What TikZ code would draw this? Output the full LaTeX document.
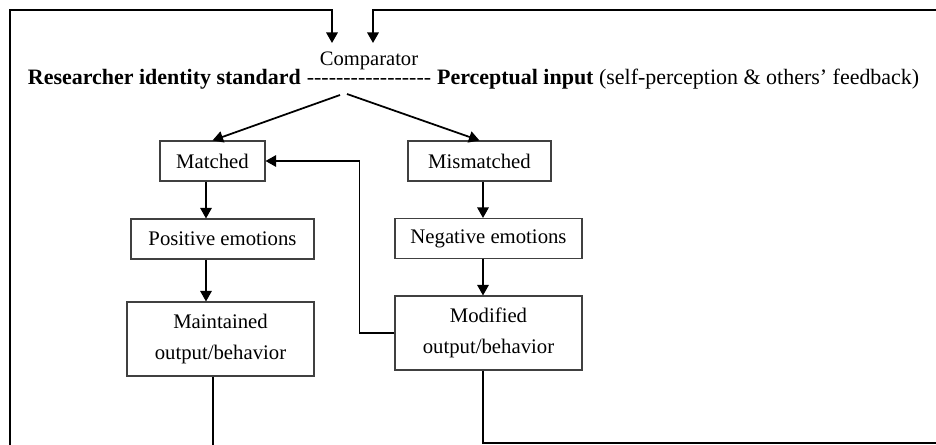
\documentclass[tikz,border=0pt]{standalone}
\usepackage{fontspec}
\setmainfont{Liberation Serif}
\usetikzlibrary{arrows.meta,positioning}

\tikzset{
  box/.style={draw=black!75, line width=0.6pt, align=center, inner sep=2pt,
    minimum height=0.8cm, font=\fontsize{11.8}{17.5}\selectfont},
  flow/.style={line width=1pt, -{Triangle[length=6pt,width=6.5pt]}},
  headtext/.style={inner sep=0pt, font=\fontsize{12.5}{15}\selectfont},
}

\begin{document}
\begin{tikzpicture}
	\useasboundingbox (0,0) rectangle (18.72,8.88);
	\clip (0,0) rectangle (18.72,8.88);
	% header: standard ---- input
	\node[headtext] (dashes) at (7.38,7.24) {\foreach \k in {1,...,17}{\mbox{-}}};
	\node[headtext, anchor=base east] (std) at ([xshift=-3pt]dashes.base west) {\textbf{Researcher identity standard}};
	\node[headtext, anchor=base west] (input) at ([xshift=3pt]dashes.base east) {\textbf{Perceptual input} (self-perception \& others’ feedback)};
	\node[inner sep=0pt, font=\fontsize{11.7}{13}\selectfont, anchor=base] (comp) at ([yshift=0.38cm]dashes.base) {Comparator};
	% boxes
	\node[box, minimum width=2.1cm] (matched) at (4.25,5.66) {Matched};
	\node[box, minimum width=2.86cm] (mismatched) at (9.59,5.66) {Mismatched};
	\node[box, minimum width=3.66cm] (positive) at (4.45,4.10) {Positive emotions};
	\node[box, minimum width=3.74cm] (negative) at (9.77,4.11) {Negative emotions};
	\node[box, minimum width=3.74cm, minimum height=1.48cm] (maintained) at (4.41,2.10) {Maintained\\output/behavior};
	\node[box, minimum width=3.74cm, minimum height=1.48cm] (modified) at (9.77,2.22) {Modified\\output/behavior};
	% helper points
	\coordinate (splitL) at (6.80,6.98);
	\coordinate (splitR) at (6.94,7.00);
	\coordinate (inL) at (6.64,8.02);
	\coordinate (inR) at (7.46,8.02);
	\coordinate (lx) at (4.12,0);
	\coordinate (rx) at (9.66,0);
	% arrows
	\draw[flow] (splitL) -- (matched.north);
	\draw[flow] (splitR) -- (mismatched.north);
	\draw[flow] (matched.south -| lx) -- (positive.north -| lx);
	\draw[flow] (positive.south -| lx) -- (maintained.north -| lx);
	\draw[flow] (mismatched.south -| rx) -- (negative.north -| rx);
	\draw[flow] (negative.south -| rx) -- (modified.north -| rx);
	\draw[flow] (modified.west) -- ++(-0.7,0) |- (matched.east);
	% feedback loops
	\draw[flow] ([xshift=-0.15cm]maintained.south) -- ++(0,-3) -| (0.2,8.68) -| (inL);
	\draw[flow] (modified.south -| rx) |- (19.2,0.02) -- (19.2,8.68) -| (inR);
\end{tikzpicture}
\end{document}
